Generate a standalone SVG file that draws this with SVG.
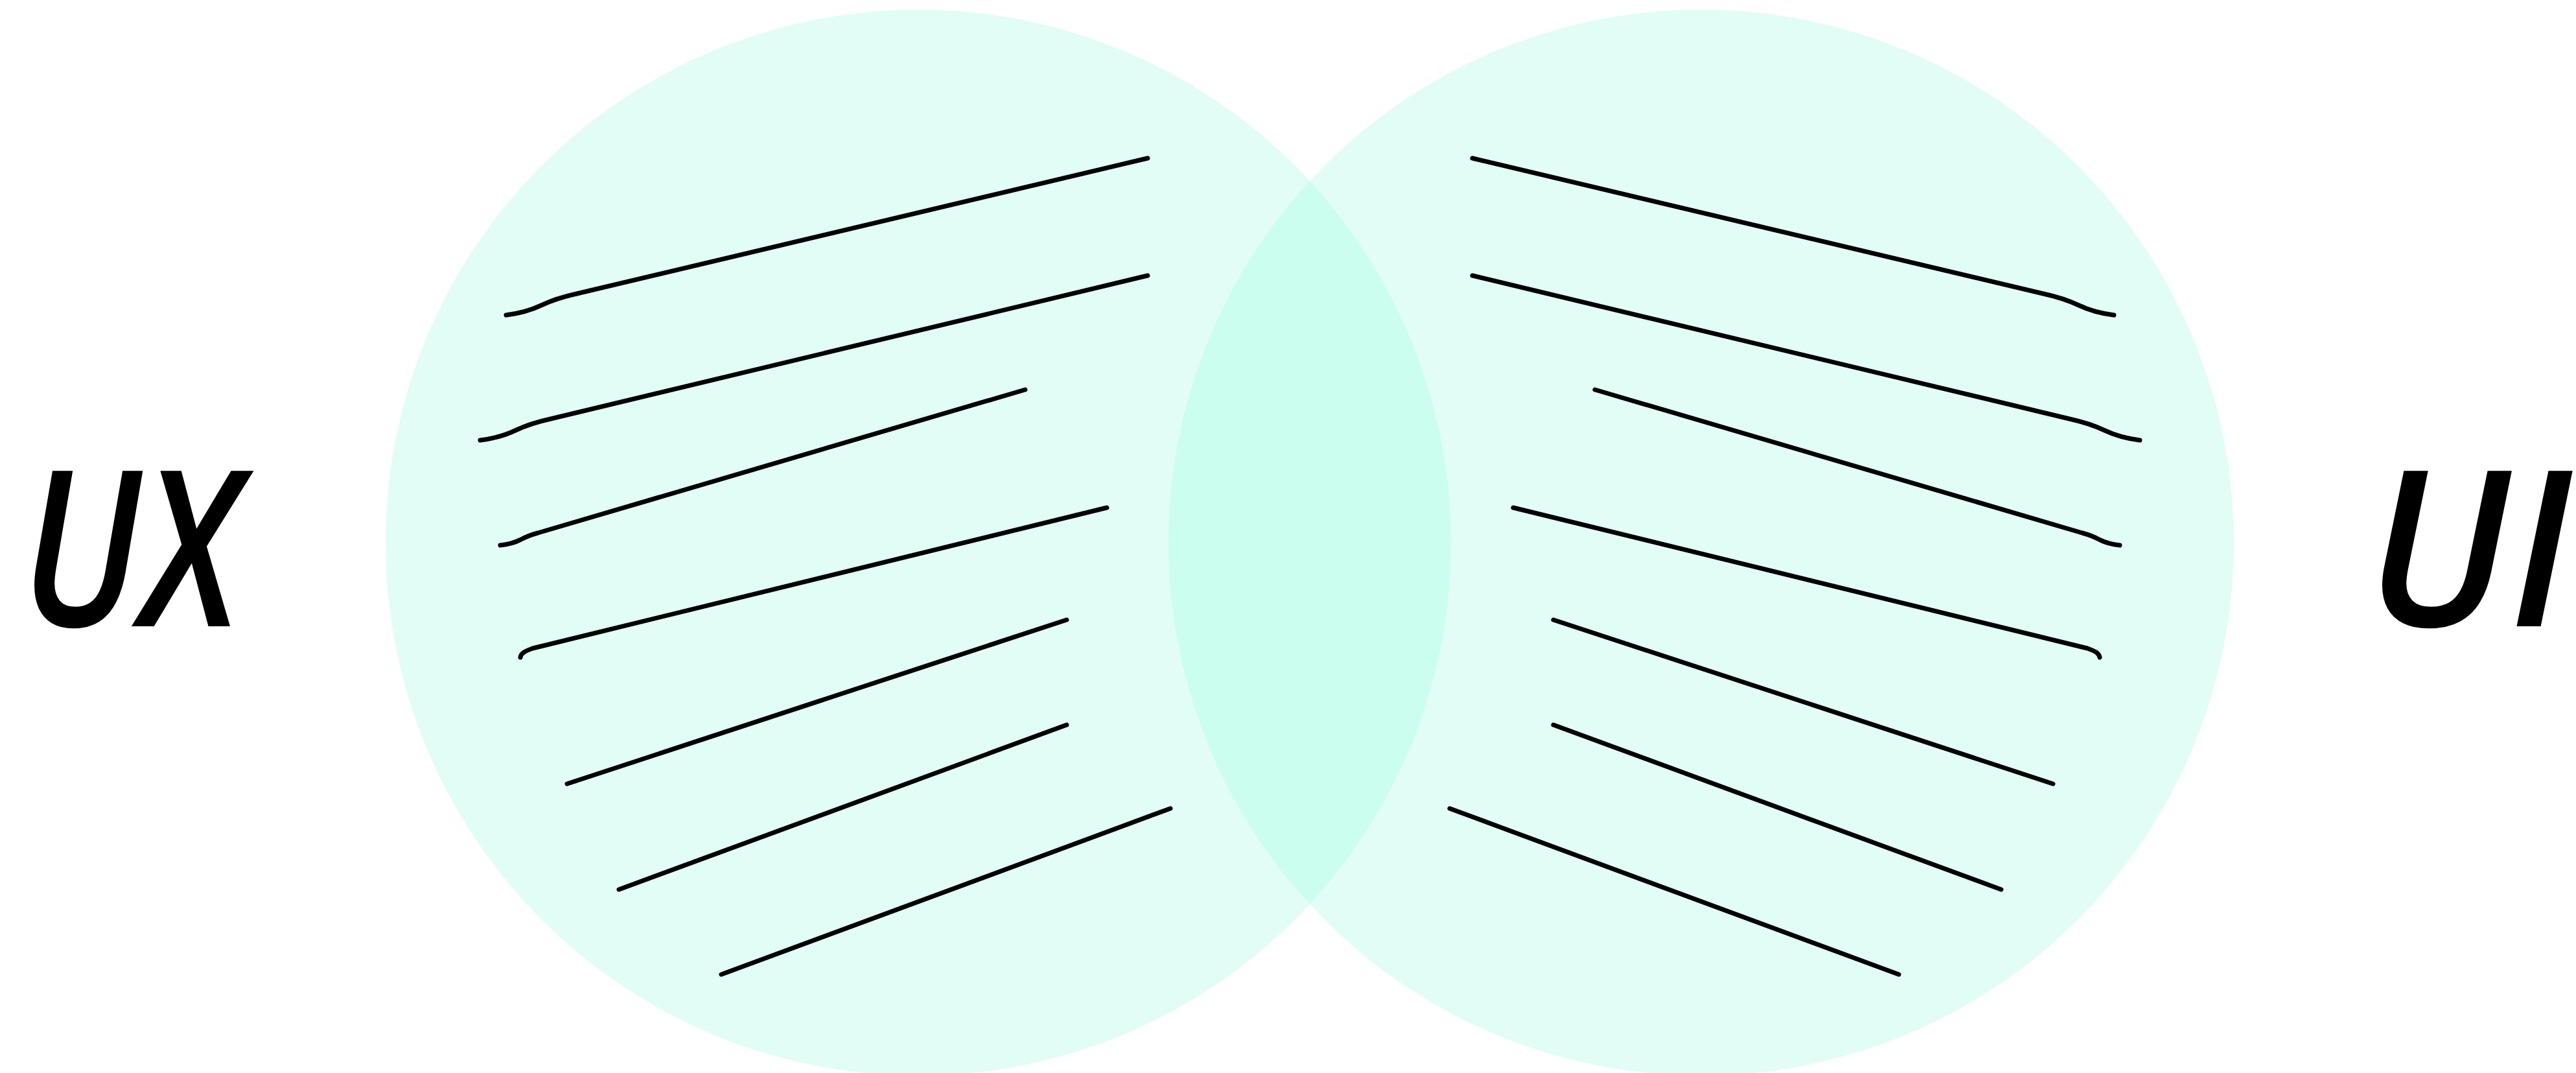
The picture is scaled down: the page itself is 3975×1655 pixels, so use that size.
<svg xmlns="http://www.w3.org/2000/svg" width="3975" height="1655" viewBox="0 0 3975 1655">
  <style>
    .set { fill: #e1fdf5; }
    .lens { fill: #cbfeee; }
    .hatch { fill: none; stroke: #000000; stroke-width: 7; stroke-linecap: round; stroke-linejoin: round; }
    .label { font-family: "Open Sans", "Noto Sans", "DejaVu Sans", sans-serif; font-style: italic; font-weight: 600; font-size: 336px; fill: #000000; }
  </style>
  <rect x="0" y="0" width="3975" height="1655" fill="#ffffff"/>
  <g id="set-ux">
    <circle class="set" cx="1417" cy="837" r="822"/>
  </g>
  <g id="set-ui">
    <circle class="set" cx="2625" cy="837" r="822"/>
  </g>
  <g id="overlap">
    <path class="lens" d="M2021,279.4 A822,822 0 0,1 2021,1394.6 A822,822 0 0,1 2021,279.4 Z"/>
  </g>
  <g id="hatch-ux">
    <path class="hatch" d="M781,486 Q812,482 835,471 Q858,460 890,453 L1771,244"/>
    <path class="hatch" d="M741,679 Q772,675 795,664 Q818,653 850,646 L1771,425"/>
    <path class="hatch" d="M772,841 Q790,839 802,833 Q815,826 830,822 L1582,601"/>
    <path class="hatch" d="M803,1014 C804,1008 808,1005 822,1000 L1708,783"/>
    <path class="hatch" d="M875,1209 L1646,956"/>
    <path class="hatch" d="M955,1372 L1646,1118"/>
    <path class="hatch" d="M1113,1503 L1806,1247"/>
  </g>
  <g id="hatch-ui" transform="matrix(-1 0 0 1 4043 0)">
    <path class="hatch" d="M781,486 Q812,482 835,471 Q858,460 890,453 L1771,244"/>
    <path class="hatch" d="M741,679 Q772,675 795,664 Q818,653 850,646 L1771,425"/>
    <path class="hatch" d="M772,841 Q790,839 802,833 Q815,826 830,822 L1582,601"/>
    <path class="hatch" d="M803,1014 C804,1008 808,1005 822,1000 L1708,783"/>
    <path class="hatch" d="M875,1209 L1646,956"/>
    <path class="hatch" d="M955,1372 L1646,1118"/>
    <path class="hatch" d="M1113,1503 L1806,1247"/>
  </g>
  <g id="label-ux">
    <text class="label" x="33" y="966" textLength="337" lengthAdjust="spacingAndGlyphs">UX</text>
  </g>
  <g id="label-ui">
    <text class="label" x="3652" y="966" textLength="316" lengthAdjust="spacingAndGlyphs">UI</text>
  </g>
</svg>
